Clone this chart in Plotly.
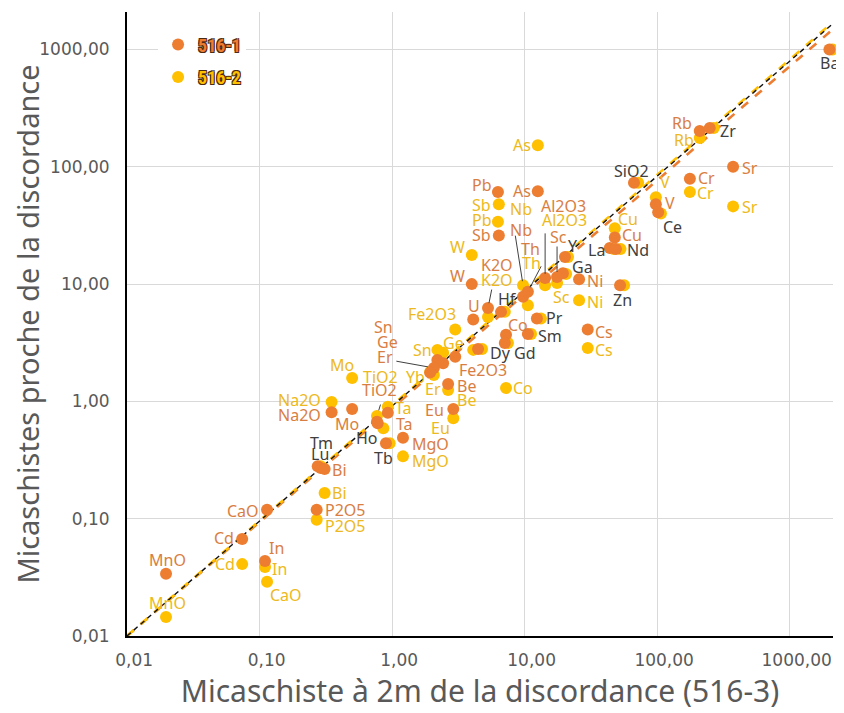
import numpy as np
import plotly.graph_objects as go

# ---------------- data ----------------
elements = ["Ba", "Zr", "Rb", "Sr", "Cr", "SiO2", "V", "Ce", "As", "Pb",
            "Sb", "W", "Cu", "La", "Nd", "Ni", "Zn", "Y", "Ga", "Sc",
            "Al2O3", "Nb", "Th", "Hf", "K2O", "U", "Pr", "Sm", "Co", "Gd",
            "Dy", "Cs", "Fe2O3", "Sn", "Ge", "Er", "Yb", "Be", "Eu", "Mo",
            "TiO2", "Ta", "Ho", "Tb", "MgO", "Na2O", "Tm", "Lu", "Bi", "P2O5",
            "CaO", "Cd", "In", "MnO"]

# 516-3 values (x) and 516-1 values (y)
x_516_1 = [2000, 250, 210, 375, 177, 67, 98, 102, 12.6, 6.3,
           6.4, 4.0, 48, 44, 49, 25.8, 52.6, 20.2, 19.5, 17.6,
           14.3, 9.75, 10.6, 6.65, 5.3, 4.1, 12.4, 10.6, 7.25, 7.1,
           4.46, 30, 3.0, 2.2, 2.43, 2.07, 1.94, 2.65, 2.9, 0.5,
           0.77, 0.93, 0.78, 0.90, 1.21, 0.35, 0.275, 0.29, 0.31, 0.27,
           0.114, 0.074, 0.11, 0.0197]
y_516_1 = [1000, 214, 202, 100, 79, 73, 48, 41, 62, 61,
           26, 10.0, 25, 20.3, 19.9, 11.0, 9.8, 17.0, 12.4, 11.5,
           11.3, 7.8, 8.6, 5.8, 6.25, 5.0, 5.1, 3.75, 3.7, 3.15,
           2.8, 4.1, 2.4, 2.25, 2.12, 1.93, 1.76, 1.41, 0.86, 0.86,
           0.67, 0.80, 0.65, 0.44, 0.49, 0.81, 0.28, 0.27, 0.265, 0.119,
           0.119, 0.067, 0.0436, 0.034]

# 516-3 values (x) and 516-2 values (y)
x_516_2 = [2100, 268, 210, 375, 177, 72, 98, 107, 12.6, 6.3,
           6.4, 4.0, 48, 47, 53, 25.8, 56.4, 21.3, 20.6, 17.6,
           14.3, 9.75, 10.6, 7.1, 5.3, 4.1, 13.3, 11.2, 7.25, 7.5,
           4.78, 30, 3.0, 2.2, 2.43, 2.07, 1.94, 2.65, 2.9, 0.5,
           0.77, 0.93, 0.86, 0.96, 1.21, 0.35, 0.29, 0.30, 0.31, 0.27,
           0.114, 0.074, 0.11, 0.0197]
y_516_2 = [1000, 214, 176, 46, 61, 73, 55, 40, 153, 34,
           48, 17.7, 30, 19.9, 19.9, 7.3, 9.8, 17.0, 12.2, 10.2,
           9.8, 9.8, 6.6, 5.8, 5.25, 2.75, 5.1, 3.75, 1.3, 3.15,
           2.8, 2.85, 4.1, 2.75, 2.6, 1.68, 1.78, 1.25, 0.72, 1.58,
           0.75, 0.90, 0.59, 0.44, 0.34, 0.99, 0.28, 0.27, 0.166, 0.098,
           0.029, 0.041, 0.0387, 0.0145]

# power-law trend exponents through (0.01, 0.01): y = 0.01*(x/0.01)**b
trend_exponents = {"516-1": 0.971, "516-2": 0.9826, "ref": 0.980}

tick_values = [0.01, 0.1, 1, 10, 100, 1000]
tick_labels = ["0,01", "0,10", "1,00", "10,00", "100,00", "1000,00"]

x_title = "Micaschiste à 2m de la discordance (516-3)"
y_title = "Micaschistes proche de la discordance"

# ---------------- styling / label placement ----------------
ORANGE = "#ED7D31"
YELLOW = "#FFC000"
TXT_O = "#D97E42"
TXT_Y = "#EDB920"
TXT_D = "#404040"
GREY = "#595959"
label_colors = {"o": TXT_O, "y": TXT_Y, "d": TXT_D}

# (element, series, dx px, dy px (down), colour)
labels = [
    ("Ba", 1, 0, 13, "d"), ("Zr", 1, 18, 3, "d"),
    ("Rb", 1, -18, -8, "o"), ("Rb", 2, -16, 2, "y"),
    ("Sr", 1, 17, 1, "o"), ("Sr", 2, 17, 1, "y"),
    ("Cr", 1, 17, -1, "o"), ("Cr", 2, 16, 1, "y"),
    ("SiO2", 1, -2, -12, "d"),
    ("V", 2, 9, -15, "y"), ("V", 1, 14, -1, "o"),
    ("Ce", 1, 14, 15, "d"),
    ("As", 2, -16, 0, "y"), ("As", 1, -16, 0, "o"),
    ("Pb", 1, -16, -7, "o"), ("Pb", 2, -16, -2, "y"),
    ("Sb", 2, -17, 1, "y"), ("Sb", 1, -17, 0, "o"),
    ("W", 2, -14, -8, "y"), ("W", 1, -14, -8, "o"),
    ("Nb", 2, -2, -76, "y"), ("Nb", 1, -2, -67, "o"),
    ("Al2O3", 1, 18, -72, "o"), ("Al2O3", 2, 19, -65, "y"),
    ("Th", 1, 3, -43, "o"), ("Th", 2, 4, -42, "y"),
    ("Sc", 1, 1, -40, "o"), ("Sc", 2, 4, 14, "y"),
    ("K2O", 1, 9, -43, "o"), ("K2O", 2, 9, -37, "y"),
    ("Hf", 1, 6, -13, "d"), ("U", 1, 1, -13, "o"),
    ("Cu", 2, 13, -9, "y"), ("Cu", 1, 17, -2, "o"),
    ("La", 1, -13, 2, "d"), ("Nd", 1, 22, 1, "d"),
    ("Ni", 1, 16, 2, "o"), ("Ni", 2, 16, 2, "y"),
    ("Zn", 1, 2, 15, "d"), ("Y", 1, 8, -11, "d"), ("Ga", 1, 20, -6, "d"),
    ("Pr", 1, 18, 0, "d"), ("Sm", 1, 22, 2, "d"),
    ("Co", 1, 12, -10, "o"), ("Co", 2, 17, 0, "y"),
    ("Gd", 1, 20, 10, "d"), ("Dy", 1, 22, 4, "d"),
    ("Cs", 1, 16, 2, "o"), ("Cs", 2, 16, 2, "y"),
    ("Fe2O3", 2, -23, -16, "y"), ("Fe2O3", 1, 28, 13, "o"),
    ("Sn", 1, -54, -33, "o"), ("Sn", 2, -15, 0, "y"),
    ("Ge", 1, -56, -21, "o"), ("Ge", 2, 10, -10, "y"),
    ("Er", 1, -49, -11, "o"), ("Er", 2, -1, 14, "y"),
    ("Yb", 2, -15, 5, "y"),
    ("Be", 1, 18, 2, "o"), ("Be", 2, 18, 10, "y"),
    ("Eu", 1, -19, 1, "o"), ("Eu", 2, -13, 10, "y"),
    ("Mo", 2, -10, -13, "y"), ("Mo", 1, -5, 15, "o"),
    ("TiO2", 2, 4, -39, "y"), ("TiO2", 1, 3, -32, "o"),
    ("Na2O", 2, -32, -2, "y"), ("Na2O", 1, -32, 3, "o"),
    ("Ta", 2, 16, 1, "y"), ("Ta", 1, 17, 11, "o"),
    ("Ho", 2, -16, 10, "d"), ("Tb", 1, -2, 15, "d"),
    ("MgO", 1, 28, 6, "o"), ("MgO", 2, 28, 5, "y"),
    ("Tm", 1, 4, -23, "d"), ("Lu", 1, -1, -14, "d"),
    ("Bi", 1, 15, 1, "o"), ("Bi", 2, 15, 0, "y"),
    ("P2O5", 1, 28, 0, "o"), ("P2O5", 2, 28, 6, "y"),
    ("CaO", 1, -24, 1, "o"), ("CaO", 2, 19, 13, "y"),
    ("Cd", 1, -18, -1, "o"), ("Cd", 2, -17, 0, "y"),
    ("In", 1, 12, -13, "o"), ("In", 2, 15, 2, "y"),
    ("MnO", 1, 1, -14, "o"), ("MnO", 2, 1, -14, "y"),
]

# leader lines: (element, series, tail dx, tail dy, standoff)
leaders = [
    ("Nb", 2, -8, -51, 4), ("Al2O3", 1, 0, -46, 4), ("Th", 1, 14, -27, 5),
    ("Sc", 1, 0, -32, 5), ("K2O", 1, 4, -20, 5), ("Er", 1, -39, -7, 6),
    ("TiO2", 2, 4, -13, 6),
]

assert len(elements) == len(x_516_1) == len(y_516_1) == len(x_516_2) == len(y_516_2)

X_MIN, X_MAX = 0.01, 10 ** 3.328
Y_MIN, Y_MAX = 0.01, 10 ** 3.32

fig = go.Figure()

# trend lines
xl = np.array([X_MIN, 10 ** 3.322])
line_styles = [("516-1", ORANGE, 2.6, "dash"),
               ("516-2", YELLOW, 2.6, "dash"),
               ("ref", "#111111", 1.4, "5px,4px")]
for key, col, w, dash in line_styles:
    b = trend_exponents[key]
    fig.add_trace(go.Scatter(x=xl, y=0.01 * (xl / 0.01) ** b, mode="lines",
                             line=dict(color=col, width=w, dash=dash),
                             showlegend=False, hoverinfo="skip"))

# points (516-2 under 516-1)
fig.add_trace(go.Scatter(x=x_516_2, y=y_516_2, mode="markers",
                         name='<span style="color:%s">516-2</span>' % YELLOW,
                         marker=dict(color=YELLOW, size=12, line=dict(width=0)),
                         text=elements, cliponaxis=False, legendrank=2,
                         legendgroup="b"))
fig.add_trace(go.Scatter(x=x_516_1, y=y_516_1, mode="markers",
                         name='<span style="color:%s">516-1</span>' % ORANGE,
                         marker=dict(color=ORANGE, size=12, line=dict(width=0)),
                         text=elements, cliponaxis=False, legendrank=1,
                         legendgroup="a"))

idx = {e: i for i, e in enumerate(elements)}
series = {1: (x_516_1, y_516_1), 2: (x_516_2, y_516_2)}

for el, s, dx, dy, c in leaders:
    xs, ys = series[s]
    i = idx[el]
    fig.add_annotation(x=np.log10(xs[i]), y=np.log10(ys[i]), xref="x", yref="y",
                       ax=dx, ay=dy, axref="pixel", ayref="pixel", text="",
                       showarrow=True, arrowhead=0, arrowwidth=1,
                       arrowcolor="#404040", standoff=c)

for el, s, dx, dy, c in labels:
    xs, ys = series[s]
    i = idx[el]
    fig.add_annotation(x=np.log10(xs[i]), y=np.log10(ys[i]), xref="x", yref="y",
                       text=el, showarrow=False, xshift=dx, yshift=-dy,
                       xanchor="center", yanchor="middle",
                       font=dict(family="Noto Sans, Open Sans, sans-serif",
                                 size=16, color=label_colors[c]))

axis_common = dict(type="log", tickvals=tick_values,
                   showgrid=True, gridcolor="#D9D9D9", gridwidth=1,
                   zeroline=False, showline=True, linecolor="#000000",
                   linewidth=2, ticks="",
                   tickfont=dict(family="DejaVu Sans, sans-serif",
                                 size=17, color=GREY))

# x labels sit slightly right of their gridlines in the reference
x_tick_text = ["\u2007\u2009" + t for t in tick_labels]

fig.update_xaxes(**axis_common, ticktext=x_tick_text,
                 range=[np.log10(X_MIN), np.log10(X_MAX)],
                 ticklabelstandoff=8,
                 title=dict(text=x_title, standoff=9,
                            font=dict(family="Noto Sans, sans-serif", size=30,
                                      color=GREY)))
fig.update_yaxes(**axis_common, ticktext=tick_labels,
                 range=[np.log10(Y_MIN), np.log10(Y_MAX)],
                 ticklabelstandoff=12,
                 title=dict(text=y_title, standoff=7,
                            font=dict(family="Noto Sans, sans-serif", size=29,
                                      color=GREY)))

# the page body adds an 8px offset; margins compensate so the plot area
# lands at the reference position inside the 844x713 window
fig.update_layout(
    width=836, height=705,
    margin=dict(l=119, r=11, t=4, b=77, autoexpand=False),
    paper_bgcolor="white", plot_bgcolor="white",
    showlegend=True,
    legend=dict(x=0.044, y=0.977, xanchor="left", yanchor="top",
                bgcolor="white", borderwidth=0, itemwidth=30,
                tracegroupgap=6, traceorder="grouped",
                font=dict(family="Liberation Sans Narrow, Roboto Condensed, Liberation Sans, sans-serif",
                          size=18, weight="bold",
                          shadow="1px 1px 0 #4a2a10, -1px -1px 0 #4a2a10, 1px -1px 0 #4a2a10, -1px 1px 0 #4a2a10")),
)

fig.write_html("out.html")
